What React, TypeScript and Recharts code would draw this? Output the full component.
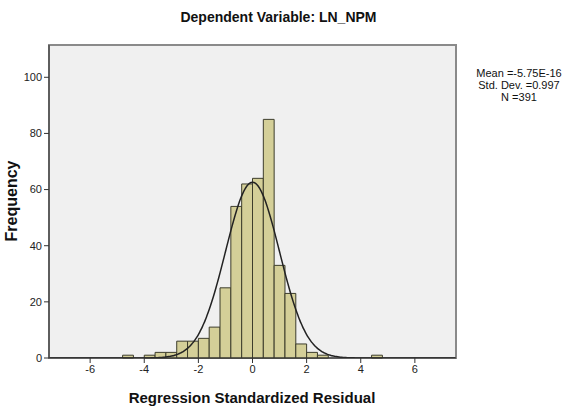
import { ComposedChart, Line, XAxis, YAxis, CartesianGrid, ReferenceArea } from "recharts";

// histogram bins (lower edge, width 0.4) and their frequencies
const binStarts = [-4.8, -4.0, -3.6, -3.2, -2.8, -2.4, -2.0, -1.6, -1.2, -0.8, -0.4, 0, 0.4, 0.8, 1.2, 1.6, 2.0, 2.4, 4.4];
const binCounts = [1, 1, 2, 2, 6, 6, 7, 11, 25, 54, 62, 64, 85, 33, 23, 5, 2, 1, 1];
const binWidth = 0.4;

// summary stats shown in the side box
const mean = -5.75e-16;
const stdDev = 0.997;
const n = 391;

const xDomain: [number, number] = [-7.52, 7.52];
const yDomain: [number, number] = [0, 111.5];
const xTicks = [-6, -4, -2, 0, 2, 4, 6];
const yTicks = [0, 20, 40, 60, 80, 100];

// fitted normal curve scaled to the histogram
const curveXs: number[] = [];
for (let x = -7.5; x <= 7.5001; x += 0.05) curveXs.push(Math.round(x * 100) / 100);
const curveData = curveXs.map((x) => ({
  x,
  y: ((n * binWidth) / (stdDev * Math.sqrt(2 * Math.PI))) * Math.exp(-0.5 * ((x - mean) / stdDev) ** 2),
}));

const font = "'Liberation Sans', Arial, sans-serif";

export default function App() {
  return (
    <div style={{ position: "absolute", left: 0, top: 0, width: 571, height: 414, background: "#fff", fontFamily: font }}>
      <div style={{ position: "absolute", left: 0, width: 557, top: 9, textAlign: "center", fontWeight: "bold", fontSize: 14, color: "#111" }}>
        Dependent Variable: LN_NPM
      </div>
      <ComposedChart width={571} height={414} data={curveData} margin={{ top: 45, right: 115, left: 0, bottom: 0 }}>
        <CartesianGrid horizontal={false} vertical={false} fill="#f0f0f0" />
        {/* plot frame */}
        <ReferenceArea
          x1={xDomain[0]}
          x2={xDomain[1]}
          y1={yDomain[0]}
          y2={yDomain[1]}
          fill="none"
          stroke="#8a8a8a"
          strokeWidth={2}
          ifOverflow="visible"
        />
        <XAxis
          type="number"
          dataKey="x"
          domain={xDomain}
          ticks={xTicks}
          allowDataOverflow
          height={56}
          tickSize={5}
          stroke="#333"
          tick={{ fontSize: 11, fill: "#222", fontFamily: font }}
        />
        <YAxis
          domain={yDomain}
          ticks={yTicks}
          allowDataOverflow
          width={49}
          tickSize={5}
          stroke="#333"
          tick={{ fontSize: 11, fill: "#222", fontFamily: font }}
        />
        {binStarts.map((lo, i) => (
          <ReferenceArea
            key={lo}
            x1={lo}
            x2={Math.round((lo + binWidth) * 10) / 10}
            y1={0}
            y2={binCounts[i]}
            fill="#d4cf98"
            fillOpacity={1}
            stroke="#3d3d2c"
            strokeWidth={1}
          />
        ))}
        <Line dataKey="y" type="monotone" stroke="#222" strokeWidth={1.5} dot={false} isAnimationActive={false} />
      </ComposedChart>
      <div
        style={{
          position: "absolute",
          left: 12,
          top: 201,
          transform: "translate(-50%, -50%) rotate(-90deg)",
          fontWeight: "bold",
          fontSize: 16,
          color: "#111",
          whiteSpace: "nowrap",
        }}
      >
        Frequency
      </div>
      <div style={{ position: "absolute", left: 102, width: 300, top: 389, textAlign: "center", fontWeight: "bold", fontSize: 15, color: "#111", whiteSpace: "nowrap" }}>
        Regression Standardized Residual
      </div>
      <div style={{ position: "absolute", left: 474, width: 90, top: 67, textAlign: "center", fontSize: 11, lineHeight: "12px", color: "#111" }}>
        <div>Mean =-5.75E-16</div>
        <div>Std. Dev. =0.997</div>
        <div>N =391</div>
      </div>
    </div>
  );
}
